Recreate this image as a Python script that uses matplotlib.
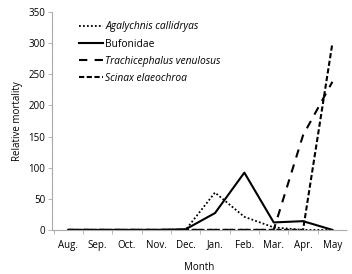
import matplotlib
matplotlib.use("Agg")
import matplotlib.pyplot as plt
import numpy as np

months = ["Aug.", "Sep.", "Oct.", "Nov.", "Dec.", "Jan.", "Feb.", "Mar.", "Apr.", "May"]
agalychnis = [0, 0, 0, 0, 0, 60, 21, 4, 0, 0]
bufonidae = [0, 0, 0, 0, 1, 27, 92, 12, 14, 0]
trachicephalus = [0, 0, 0, 0, 0, 0, 0, 0, 152, 238]
scinax = [0, 0, 0, 0, 0, 0, 0, 0, 0, 300]
yticks = [0, 50, 100, 150, 200, 250, 300, 350]

plt.rcParams['font.family'] = ['Open Sans', 'DejaVu Sans']

fig = plt.figure(figsize=(3.52, 2.74), dpi=100)
ax = fig.add_axes([0.148, 0.161, 0.838, 0.795])
x = np.arange(len(months))

ax.plot(x, agalychnis, color='black', lw=1.3, linestyle=(0, (1, 1.2)), label='Agalychnis callidryas')
ax.plot(x, bufonidae, color='black', lw=1.5, linestyle='-', label='Bufonidae')
ax.plot(x, trachicephalus, color='black', lw=1.5, linestyle=(0, (4, 3.5)), label='Trachicephalus venulosus')
ax.plot(x, scinax, color='black', lw=1.5, linestyle=(0, (2.5, 1.2)), label='Scinax elaeochroa')

ax.set_xlim(-0.55, 9.5)
ax.set_ylim(0, 350)
ax.set_yticks(yticks)
ax.set_xticks(x)
ax.set_xticklabels(months)
ax.set_xticks(np.arange(-0.5, 9.5, 1.0), minor=True)
ax.tick_params(axis='x', which='major', length=0, pad=7, labelsize=7)
ax.tick_params(axis='x', which='minor', length=3, color='#aaaaaa', width=0.6)
ax.tick_params(axis='y', length=3, color='#aaaaaa', width=0.6, labelsize=7, pad=2)

for side in ['top', 'right']:
    ax.spines[side].set_visible(False)
for side in ['left', 'bottom']:
    ax.spines[side].set_color('#aaaaaa')
    ax.spines[side].set_linewidth(0.8)
    ax.spines[side].set_linestyle((0, (1, 0.6)))

ax.set_xlabel('Month', fontsize=7, labelpad=8)
ax.set_ylabel('Relative mortality', fontsize=7, labelpad=4)

leg = ax.legend(loc='upper left', bbox_to_anchor=(0.07, 0.985), frameon=False, fontsize=7.4,
                handlelength=2.3, handletextpad=0.25, labelspacing=0.6, borderaxespad=0.2)
for i, t in enumerate(leg.get_texts()):
    if i != 1:
        t.set_style('italic')

fig.savefig('out.png', dpi=100)
